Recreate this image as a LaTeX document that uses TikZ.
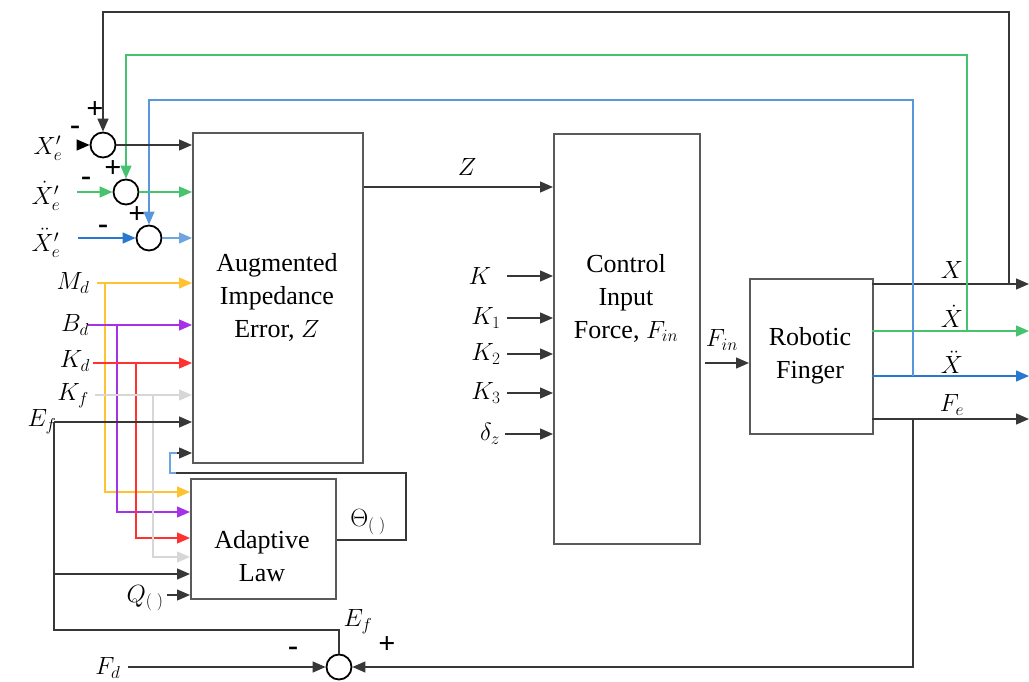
\documentclass[tikz,border=0pt]{standalone}
\usepackage{fontspec}
\setmainfont{Liberation Serif}
\usetikzlibrary{arrows.meta,calc}
\definecolor{cgreen}{RGB}{70,195,110}
\definecolor{cblue}{RGB}{40,120,210}
\definecolor{lblue}{RGB}{110,165,225}
\definecolor{cyel}{RGB}{255,195,50}
\definecolor{cpur}{RGB}{165,50,230}
\definecolor{cred}{RGB}{255,50,50}
\definecolor{cgry}{RGB}{215,215,215}
\definecolor{dk}{RGB}{55,55,55}
\definecolor{bx}{RGB}{90,90,90}
\begin{document}
\begin{tikzpicture}[x=1pt,y=-1pt,
  every node/.style={font=\fontsize{26}{33}\selectfont, inner sep=0pt},
  blk/.style={draw=bx, line width=1.6pt, anchor=north west},
  sum/.style={draw=black, circle, line width=1.8pt, minimum size=25pt},
  ln/.style={line width=1.3pt},
  arr/.style={ln, -{Triangle[length=13pt,width=11pt]}},
  sgn/.style={font=\fontsize{30}{30}\selectfont\bfseries}]
\useasboundingbox (0,0) rectangle (1029,682);

% blocks
\node[blk, minimum width=170pt, minimum height=330pt] (aie) at (192,132) {};
\node[align=center] (aiet) at (277,297) {Augmented\\Impedance\\Error, $Z$};
\node[blk, minimum width=146pt, minimum height=410pt] (cif) at (553,133) {};
\node[align=center] (cift) at (626,298) {Control\\Input\\Force, $F_{in}$};
\node[blk, minimum width=123pt, minimum height=155pt] (rf) at (749,278) {};
\node[align=center] (rft) at (810,356) {Robotic\\Finger};
\node[blk, minimum width=145pt, minimum height=120pt] (al) at (190,478) {};
\node[align=center] (alt) at (262,556) {Adaptive\\Law};

% summing junctions
\node[sum] (s1) at (103,145) {};
\node[sum] (s2) at (126,192) {};
\node[sum] (s3) at (149,238) {};
\node[sum] (s4) at (339,667) {};

% signs
\node[sgn] (p1) at (95,110) {+};
\node[sgn] (m1) at (75,130) {-};
\node[sgn] (p2) at (113,169) {+};
\node[sgn] (m2) at (86,181) {-};
\node[sgn] (p3) at (137,215) {+};
\node[sgn] (m3) at (103,229) {-};
\node[sgn] (m4) at (293,651) {-};
\node[sgn] (p4) at (387,645) {+};

% input labels
\node (lx1) at (48,148) {$X_e^{\prime}$};
\node (lx2) at (46,196) {$\dot X_e^{\prime}$};
\node (lx3) at (46,243) {$\ddot X_e^{\prime}$};
\node (lmd) at (73,283) {$M_d$};
\node (lbd) at (75,325) {$B_d$};
\node (lkd) at (75,361) {$K_d$};
\node (lkf) at (73,396) {$K_f$};
\node (lef) at (42,422) {$E_f$};
\node (lq) at (145,598) {$Q_{(\;)}$};
\node (lth) at (368,522) {$\Theta_{(\;)}$};
\node (lz) at (467,167) {$Z$};
\node (lk) at (480,276) {$K$};
\node (lk1) at (486,318) {$K_1$};
\node (lk2) at (486,354) {$K_2$};
\node (lk3) at (486,393) {$K_3$};
\node (ldz) at (490,434) {$\delta_z$};
\node (lfin) at (722,340) {$F_{in}$};
\node (lX) at (952,270) {$X$};
\node (lXd) at (952,316) {$\dot X$};
\node (lXdd) at (952,362) {$\ddot X$};
\node (lFe) at (952,405) {$F_e$};
\node (lfd) at (108,668) {$F_d$};
\node (lef2) at (358,622) {$E_f$};

% coordinates
\coordinate (i1) at (78,145);
\coordinate (i2) at (77,192);
\coordinate (i3) at (78,238);
\coordinate (xs) at (872,284);  \coordinate (xe) at (1029,284);
\coordinate (vs) at (872,331);  \coordinate (ve) at (1029,331);
\coordinate (as) at (872,376);  \coordinate (ae) at (1029,376);
\coordinate (fs) at (872,419);  \coordinate (fe) at (1029,419);
\coordinate (xb) at (1009,284);
\coordinate (vb) at (967,331);
\coordinate (ab) at (913,376);
\coordinate (fb) at (913,419);

% outputs of robotic finger
\draw[arr, dk] (xs) -- (xe);
\draw[arr, cgreen] (vs) -- (ve);
\draw[arr, cblue] (as) -- (ae);
\draw[arr, dk] (fs) -- (fe);

% feedback loops
\draw[arr, dk] (xb) -- (xb |- 0,12) -- (s1 |- 0,12) -- (s1.north);
\draw[arr, cgreen] (vb) -- (vb |- 0,55) -- (s2 |- 0,55) -- (s2.north);
\draw[arr, lblue!70!cblue] (ab) -- (ab |- 0,100) -- (s3 |- 0,100) -- (s3.north);

% sum inputs and outputs
\draw[arr, black] (i1) -- (s1.west);
\draw[arr, cgreen] (i2) -- (s2.west);
\draw[arr, cblue] (i3) -- (s3.west);
\draw[arr, dk] (s1.east) -- (s1 -| aie.west);
\draw[arr, cgreen] (s2.east) -- (s2 -| aie.west);
\draw[arr, lblue] (s3.east) -- (s3 -| aie.west);

% parameters
\draw[arr, cyel] (97,283) -- (aie.west |- 0,283);
\draw[arr, cyel] (105,283) |- (al.west |- 0,492);
\draw[arr, cpur] (88,325) -- (aie.west |- 0,325);
\draw[arr, cpur] (117,325) |- (al.west |- 0,512);
\draw[arr, cred] (93,363) -- (aie.west |- 0,363);
\draw[arr, cred] (136,363) |- (al.west |- 0,538);
\draw[arr, cgry] (95,395) -- (aie.west |- 0,395);
\draw[arr, cgry] (153,395) |- (al.west |- 0,557);
\draw[arr, dk] (54,422) -- (aie.west |- 0,422);
\draw[arr, dk] (54,574) -- (al.west |- 0,574);
\draw[ln, dk] (54,422) -- (54,630) -| (s4.north);
\draw[arr, dk] (167,595) -- (al.west |- 0,595);

% Theta feedback
\draw[ln, dk] (al.east |- 0,540) -- (406,540) -- (406,473) -- (176,473);
\draw[ln, lblue] (176,473) -- (170,473) -- (170,453) -- (178,453);
\draw[arr, dk] (177,453) -- (aie.west |- 0,453);

% Z and control inputs
\draw[arr, dk] (aie.east |- 0,187) -- (cif.west |- 0,187);
\draw[arr, dk] (507,276) -- (cif.west |- 0,276);
\draw[arr, dk] (507,318) -- (cif.west |- 0,318);
\draw[arr, dk] (507,354) -- (cif.west |- 0,354);
\draw[arr, dk] (507,393) -- (cif.west |- 0,393);
\draw[arr, dk] (505,434) -- (cif.west |- 0,434);
\draw[arr, dk] (705,363) -- (rf.west |- 0,363);

% force loop
\draw[arr, dk] (128,667) -- (s4.west);
\draw[arr, dk] (fb) -- (fb |- s4) -- (s4.east);
\end{tikzpicture}
\end{document}
